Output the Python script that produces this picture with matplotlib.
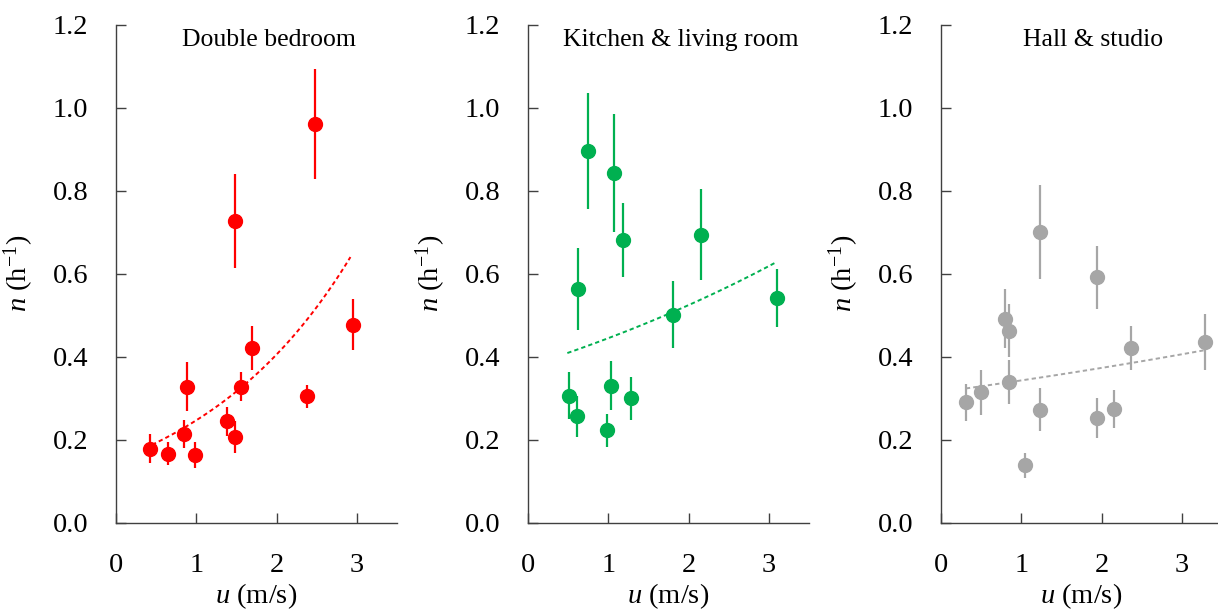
import numpy as np
import matplotlib
matplotlib.use("Agg")
import matplotlib.pyplot as plt

plt.rcParams['font.family'] = ['Liberation Serif', 'DejaVu Serif']
plt.rcParams['mathtext.fontset'] = 'custom'
plt.rcParams['mathtext.rm'] = 'Liberation Serif'
plt.rcParams['mathtext.it'] = 'Liberation Serif:italic'

titles = ["Double bedroom", "Kitchen & living room", "Hall & studio"]
colors = ["#ff0000", "#00b050", "#a6a6a6"]

bed_u = [0.42, 0.65, 0.85, 0.89, 0.99, 1.38, 1.48, 1.48, 1.56, 1.70, 2.38, 2.48, 2.95]
bed_n = [0.178, 0.166, 0.213, 0.328, 0.163, 0.244, 0.206, 0.728, 0.328, 0.422, 0.304, 0.961, 0.477]
bed_e = [0.035, 0.027, 0.034, 0.058, 0.032, 0.035, 0.038, 0.113, 0.036, 0.053, 0.027, 0.133, 0.061]

kit_u = [0.51, 0.61, 0.62, 0.75, 0.98, 1.03, 1.07, 1.18, 1.28, 1.80, 2.15, 3.10]
kit_n = [0.306, 0.256, 0.563, 0.896, 0.222, 0.330, 0.843, 0.681, 0.300, 0.501, 0.694, 0.542]
kit_e = [0.057, 0.049, 0.098, 0.140, 0.040, 0.059, 0.142, 0.089, 0.052, 0.081, 0.110, 0.070]

hall_u = [0.31, 0.50, 0.80, 0.85, 0.85, 1.05, 1.23, 1.23, 1.94, 1.94, 2.15, 2.37, 3.29]
hall_n = [0.290, 0.314, 0.492, 0.463, 0.339, 0.138, 0.700, 0.272, 0.591, 0.252, 0.274, 0.421, 0.436]
hall_e = [0.045, 0.054, 0.071, 0.065, 0.052, 0.030, 0.113, 0.052, 0.077, 0.049, 0.045, 0.053, 0.068]

# trendline ends and exponential coefficients: n = a*exp(b*u)
trend_a = [0.150, 0.377, 0.315]
trend_b = [0.497, 0.165, 0.0844]
trend_lo = [0.45, 0.49, 0.31]
trend_hi = [2.92, 3.07, 3.27]

series = [(bed_u, bed_n, bed_e), (kit_u, kit_n, kit_e), (hall_u, hall_n, hall_e)]

fig = plt.figure(figsize=(12.18, 6.09), dpi=100)
lefts = [116/1218, 528/1218, 941/1218]
bottom = 1 - 522.5/609
height = (522.5 - 25)/609
width = 281/1218

for i, (u, n, e) in enumerate(series):
    ax = fig.add_axes([lefts[i], bottom, width, height])
    ax.errorbar(u, n, yerr=e, fmt='o', color=colors[i], ms=10, elinewidth=1.6,
                capsize=0, mec=colors[i], zorder=3)
    xs = np.linspace(trend_lo[i], trend_hi[i], 100)
    ax.plot(xs, trend_a[i]*np.exp(trend_b[i]*xs), linestyle=(0, (2.2, 1.6)),
            color=colors[i], lw=1.4, zorder=2)
    ax.set_xlim(0, 3.5)
    ax.set_ylim(0, 1.2)
    ax.set_xticks([0, 1, 2, 3])
    ax.set_yticks(np.arange(0, 1.21, 0.2))
    ax.set_yticklabels([f"{v:.1f}" for v in np.arange(0, 1.21, 0.2)])
    for s in ['top', 'right']:
        ax.spines[s].set_visible(False)
    for s in ['left', 'bottom']:
        ax.spines[s].set_color('#404040')
        ax.spines[s].set_linewidth(1.0)
    ax.tick_params(axis='both', direction='in', length=7, width=1.0,
                   color='#404040', labelsize=20.5)
    ax.tick_params(axis='y', pad=20)
    ax.tick_params(axis='x', pad=22)
    ax.set_xlabel(r"$\mathit{u}$ (m/s)", fontsize=20.5, labelpad=2)
    ax.set_ylabel(r"$\mathit{n}$ (h$^{\mathrm{-1}}$)", fontsize=20.5, labelpad=12)
    ax.text(1.9, 1.163, titles[i], ha='center', va='center', fontsize=18.5)
    ax.patch.set_alpha(0)

fig.savefig("out.png", dpi=100)
